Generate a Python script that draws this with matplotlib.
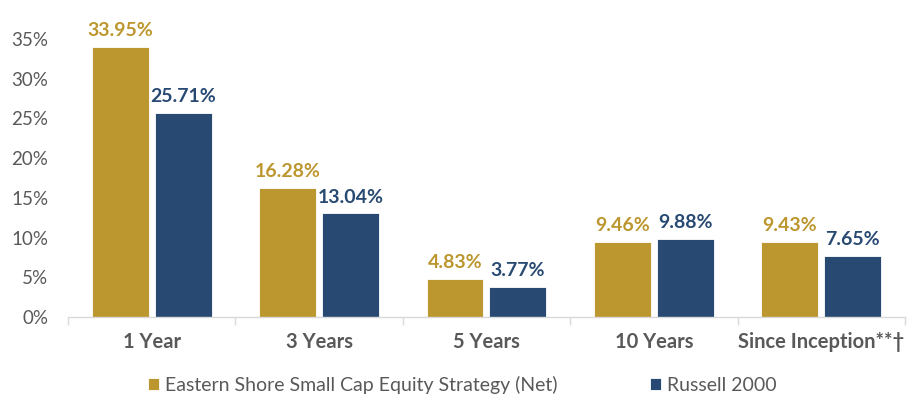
import numpy as np
import matplotlib.pyplot as plt
from matplotlib.ticker import FuncFormatter, FixedLocator

categories = ['1 Year', '3 Years', '5 Years', '10 Years', 'Since Inception**\u2020']
strategy = [33.95, 16.28, 4.83, 9.46, 9.43]
russell = [25.71, 13.04, 3.77, 9.88, 7.65]
series_names = ['Eastern Shore Small Cap Equity Strategy (Net)', 'Russell 2000']

gold = '#BC962E'
navy = '#284A72'
gray = '#595959'

plt.rcParams['font.family'] = ['Lato', 'DejaVu Sans']

fig = plt.figure(figsize=(9.17, 4.05), dpi=100)
ax = fig.add_axes([0.074, 0.217, 0.913, 0.687])

x = np.arange(len(categories))
w = 0.34
gap = 0.036
b1 = ax.bar(x - (w + gap) / 2, strategy, w, color=gold, edgecolor='white', linewidth=0.6,
            label=series_names[0])
b2 = ax.bar(x + (w + gap) / 2, russell, w, color=navy, edgecolor='white', linewidth=0.6,
            label=series_names[1])

# value labels above bars
for bars, vals, c in [(b1, strategy, gold), (b2, russell, navy)]:
    for b, v in zip(bars, vals):
        ax.text(b.get_x() + b.get_width() / 2, v + 1.0, f'{v:.2f}%', ha='center', va='bottom',
                fontsize=14, fontweight='bold', color=c, clip_on=False)

ax.set_xlim(-0.5, len(categories) - 0.5)
ax.set_ylim(0, 35)
ax.set_yticks(np.arange(0, 36, 5))
ax.yaxis.set_major_formatter(FuncFormatter(lambda v, p: f'{v:.0f}%'))
ax.tick_params(axis='y', length=0, labelsize=13.5, labelcolor=gray, pad=14)

ax.set_xticks(x)
ax.set_xticklabels(categories, fontsize=14.5, fontweight='bold', color=gray)
ax.tick_params(axis='x', which='major', length=0, pad=11)
ax.xaxis.set_minor_locator(FixedLocator(np.arange(-0.5, len(categories), 1)))
ax.tick_params(axis='x', which='minor', length=6, color='#D9D9D9', width=1)

for s in ['top', 'right', 'left']:
    ax.spines[s].set_visible(False)
ax.spines['bottom'].set_color('#D9D9D9')
ax.spines['bottom'].set_linewidth(1)

fig.legend(handles=[b1, b2], loc='center left', bbox_to_anchor=(148 / 917, 0.05), ncol=2,
           frameon=False, fontsize=14, labelcolor=gray, columnspacing=4.8,
           borderpad=0, borderaxespad=0,
           handlelength=0.55, handleheight=0.55, handletextpad=0.3)

fig.savefig('out.png', dpi=100)
